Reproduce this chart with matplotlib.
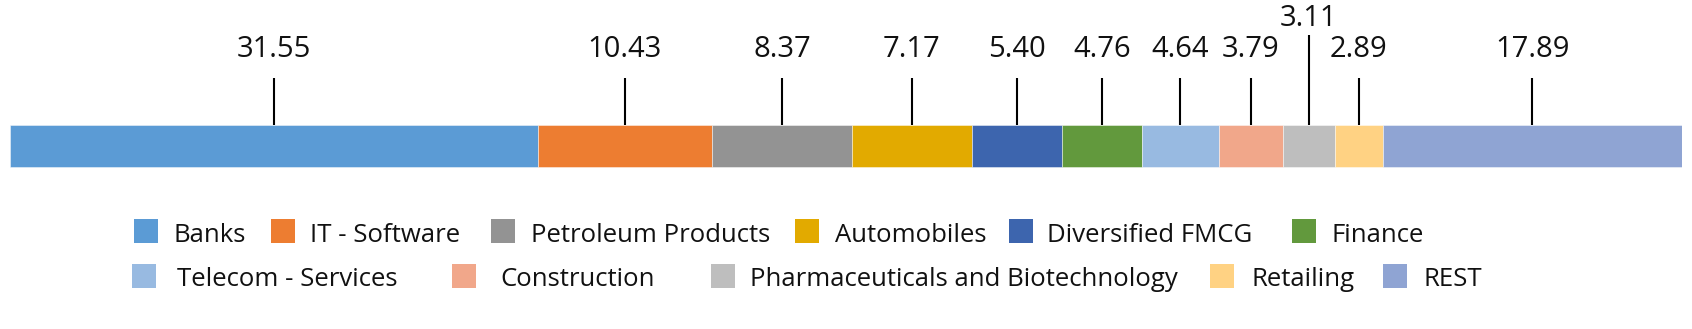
import matplotlib
matplotlib.use("Agg")
import matplotlib.pyplot as plt
from matplotlib.patches import Rectangle
import numpy as np

# ---- data ----
sectors = ["Banks", "IT - Software", "Petroleum Products", "Automobiles",
           "Diversified FMCG", "Finance", "Telecom - Services", "Construction",
           "Pharmaceuticals and Biotechnology", "Retailing", "REST"]
weights = [31.55, 10.43, 8.37, 7.17, 5.40, 4.76, 4.64, 3.79, 3.11, 2.89, 17.89]
labels = ["31.55", "10.43", "8.37", "7.17", "5.40", "4.76", "4.64", "3.79",
          "3.11", "2.89", "17.89"]

# ---- styles ----
colors = ["#5B9BD5", "#ED7D31", "#939393", "#E2AA00", "#3D65AE", "#62993D",
          "#98BAE1", "#F1A78A", "#BEBEBE", "#FFD283", "#8FA4D3"]
raised = {"Pharmaceuticals and Biotechnology"}

W, H = 1692, 329
plt.rcParams["font.family"] = ["Open Sans", "DejaVu Sans"]
fig = plt.figure(figsize=(W / 100, H / 100), dpi=100)

# main axes: x in data units, y in pixel units (top = 0)
x0, x1 = 10, 1682
ax = fig.add_axes([x0 / W, 0, (x1 - x0) / W, 1])
ax.set_xlim(0, sum(weights))
ax.set_ylim(H, 0)
ax.axis("off")

lefts = np.concatenate([[0], np.cumsum(weights)[:-1]])
bar_top, bar_bot = 125, 167
ax.barh((bar_top + bar_bot) / 2, weights, left=lefts, height=bar_bot - bar_top,
        color=colors, edgecolor=(1, 1, 1, 0.45), linewidth=0.7)

for name, w, l, lab in zip(sectors, weights, lefts, labels):
    xc = l + w / 2
    if name in raised:
        top, base = 35, 26
    else:
        top, base = 78, 57
    ax.plot([xc, xc], [top, bar_top], color="black", lw=1.5, solid_capstyle="butt")
    ax.text(xc, base, lab, ha="center", va="baseline", fontsize=21, color="#111111")

# legend overlay (pixel layout)
lay = fig.add_axes([0, 0, 1, 1])
lay.set_xlim(0, W)
lay.set_ylim(H, 0)
lay.axis("off")
marker_x = [134, 271, 491, 795, 1009, 1292, 132, 452, 711, 1210, 1383]
text_x = [173, 310, 531, 835, 1047, 1332, 177, 500, 750, 1251, 1423]
row = [0, 0, 0, 0, 0, 0, 1, 1, 1, 1, 1]
row_center = [230.5, 276]
row_base = [241.5, 286.5]
msz = 24
for name, c, mx, tx, r in zip(sectors, colors, marker_x, text_x, row):
    lay.add_patch(Rectangle((mx, row_center[r] - msz / 2), msz, msz,
                            facecolor=c, edgecolor="none"))
    lay.text(tx, row_base[r], name, ha="left", va="baseline", fontsize=18.5,
             color="#111111")

fig.savefig("out.png", dpi=100, facecolor="white")
